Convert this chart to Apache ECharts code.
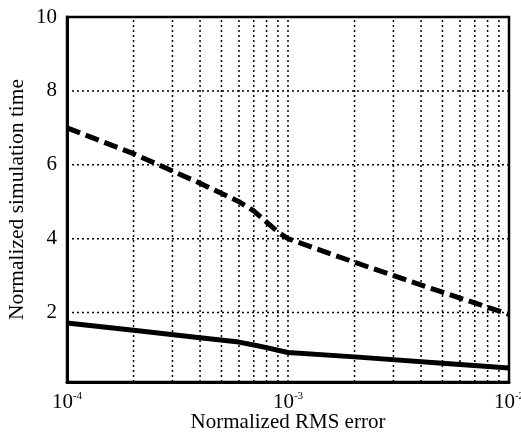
<!DOCTYPE html>
<html>
<head>
<meta charset="utf-8">
<script src="https://cdn.jsdelivr.net/npm/echarts@6/dist/echarts.min.js"></script>
<style>html,body{margin:0;padding:0;background:#fff}#c{width:521px;height:437px}</style>
</head>
<body>
<div id="c"></div>
<script>
// Data
const rmsError = [1e-4, 2e-4, 4e-4, 6e-4, 7e-4, 8e-4, 9e-4, 1e-3, 2e-3, 5e-3, 1e-2];
const dashedTime = [7.0, 6.3, 5.5, 5.0, 4.75, 4.45, 4.18, 4.0, 3.36, 2.55, 1.95];
const solidTime = [1.72, 1.52, 1.32, 1.2, 1.12, 1.05, 0.98, 0.92, 0.8, 0.63, 0.5];
const yTickLabels = [2, 4, 6, 8, 10];
const yGridValues = [2, 4, 6, 8];
const xGridValues = [2e-4, 3e-4, 4e-4, 5e-4, 6e-4, 7e-4, 8e-4, 9e-4, 1e-3,
                     2e-3, 3e-3, 4e-3, 5e-3, 6e-3, 7e-3, 8e-3, 9e-3];
const X_MIN = 1e-4, X_MAX = 1e-2, Y_MIN = 0.12, Y_MAX = 10;

const FONT = '"Liberation Serif", "Times New Roman", serif';
const dotted = { color: '#000', width: 1.5, type: [2, 3] };

const gridSeries = [];
xGridValues.forEach(v => gridSeries.push({
  type: 'line', data: [[v, Y_MIN], [v, Y_MAX]], symbol: 'none', silent: true,
  lineStyle: dotted, z: 1
}));
yGridValues.forEach(v => gridSeries.push({
  type: 'line', data: [[X_MIN, v], [X_MAX, v]], symbol: 'none', silent: true,
  lineStyle: dotted, z: 1
}));

const chart = echarts.init(document.getElementById('c'), null, { renderer: 'canvas' });
chart.setOption({
  animation: false,
  backgroundColor: '#fff',
  grid: { left: 67, right: 12, top: 17, bottom: 55, outerBoundsMode: 'none', containLabel: false,
          show: true, borderColor: '#000', borderWidth: 2.5, backgroundColor: 'transparent' },
  xAxis: {
    type: 'log', logBase: 10, min: X_MIN, max: X_MAX,
    name: 'Normalized RMS error', nameLocation: 'middle', nameGap: 30, nameMoveOverlap: false,
    nameTextStyle: { fontFamily: FONT, fontSize: 21, color: '#000' },
    axisLine: { show: true, lineStyle: { color: '#000', width: 3 } },
    axisTick: { show: false },
    splitLine: { show: false },
    axisLabel: {
      margin: 9, color: '#000', fontFamily: FONT, fontSize: 21,
      formatter: function (v) { return '10{s|' + Math.round(Math.log10(v)) + '}'; },
      rich: { s: { fontFamily: FONT, fontSize: 11, color: '#000', verticalAlign: 'top', padding: [0, 0, 12, 0] } }
    }
  },
  yAxis: {
    type: 'value', min: Y_MIN, max: Y_MAX,
    name: 'Normalized simulation time', nameLocation: 'middle', nameGap: 39, nameMoveOverlap: false,
    nameTextStyle: { fontFamily: FONT, fontSize: 21.5, color: '#000' },
    axisLine: { show: true, lineStyle: { color: '#000', width: 3 } },
    axisTick: { show: false, customValues: yTickLabels },
    splitLine: { show: false },
    axisLabel: {
      margin: 10, color: '#000', fontFamily: FONT, fontSize: 21,
      customValues: yTickLabels,
      formatter: function (v) { return yTickLabels.indexOf(v) >= 0 ? String(v) : ''; }
    }
  },
  series: gridSeries.concat([
    {
      type: 'line', data: rmsError.map((x, i) => [x, dashedTime[i]]),
      symbol: 'none', lineStyle: { color: '#000', width: 5, type: [14, 6] }, z: 3
    },
    {
      type: 'line', data: rmsError.map((x, i) => [x, solidTime[i]]),
      symbol: 'none', lineStyle: { color: '#000', width: 5 }, z: 3
    }
  ])
});
</script>
</body>
</html>
